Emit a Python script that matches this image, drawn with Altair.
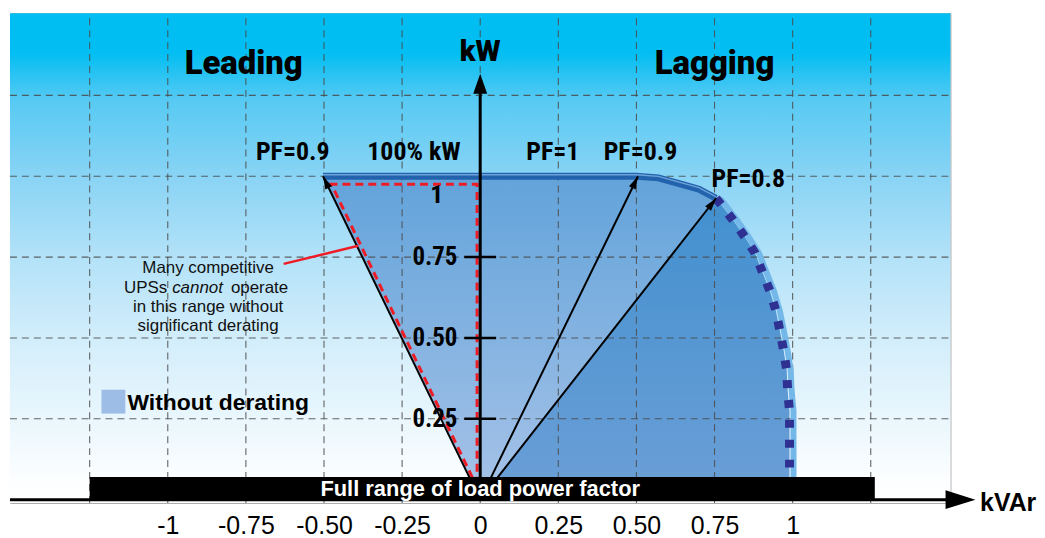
import math
import altair as alt
import pandas as pd

# ---------------- data ----------------
X_DOMAIN = [-1.505, 1.505]
Y_DOMAIN = [-0.01, 1.504]
W, H = 945, 492

tick_values = [-1, -0.75, -0.5, -0.25, 0, 0.25, 0.5, 0.75, 1]
tick_labels = ["-1", "-0.75", "-0.50", "-0.25", "0", "0.25", "0.50", "0.75", "1"]

grid_x = [-1.25, -1, -0.75, -0.5, -0.25, 0, 0.25, 0.5, 0.75, 1, 1.25]
grid_y = [0.25, 0.5, 0.75, 1.0, 1.25]

# outer capability boundary (kVAr, kW)
curve_y = [0.0, 0.086, 0.148, 0.212, 0.274, 0.338, 0.400, 0.462, 0.523, 0.585,
           0.646, 0.702, 0.763, 0.812, 0.865, 0.932, 0.960, 0.978, 0.995, 1.0]
curve_x = [0.990, 0.990, 0.990, 0.990, 0.990, 0.984, 0.981, 0.971, 0.959, 0.946,
           0.927, 0.904, 0.879, 0.847, 0.809, 0.755, 0.700, 0.634, 0.570, 0.500]

lead_pt = (-0.503, 1.0)    # PF=0.9 leading
lag09_pt = (0.505, 1.0)    # PF=0.9 lagging
lag08_pt = (0.755, 0.932)  # PF=0.8 lagging

# light (without derating) region, right part
light_y = [0.0, 0.932, 0.960, 0.978, 0.995, 1.0]
light_x2 = [0.0, 0.755, 0.700, 0.634, 0.570, 0.500]

# red dashed "competitive UPS" region
red_x = [-0.025, -0.476, -0.010, -0.010]
red_y = [0.068, 0.975, 0.975, 0.068]

# annotation leader line
lead_line_x = [-0.629, -0.390]
lead_line_y = [0.729, 0.785]

kw_tick_values = [0.25, 0.5, 0.75]
kw_tick_labels = ["0.25", "0.50", "0.75"]

bar_x, bar_x2, bar_y, bar_y2 = -1.25, 1.263, 0.0, 0.070

big_labels = ["Leading", "Lagging", "kW"]
big_x = [-0.757, 0.750, 0.0]
big_y = [1.347, 1.347, 1.384]

pf_labels = ["PF=0.9", "100% kW", "PF=1", "PF=0.9", "PF=0.8", "1"]
pf_x = [-0.600, -0.212, 0.2325, 0.513, 0.858, -0.139]
pf_y = [1.075, 1.075, 1.075, 1.075, 0.990, 0.941]

note_lines = ["Many competitive", "in this range without", "significant derating"]
note_x = [-0.871, -0.871, -0.871]
note_y = [0.716, 0.596, 0.538]
note2_parts = ["UPSs", "cannot", "operate"]
note2_x = [-1.002, -0.986, -0.798]
note2_y = 0.655

legend_label = "Without derating"
legend_x, legend_y = -1.174, 0.303
legend_text_x, legend_text_y = -1.129, 0.298

# ---------------- helpers ----------------
xs = alt.Scale(domain=X_DOMAIN, nice=False, zero=False)
ys = alt.Scale(domain=Y_DOMAIN, nice=False, zero=False)
label_expr = " : ".join(f"datum.value == {v} ? '{s}'" for v, s in zip(tick_values, tick_labels)) + " : ''"
x_axis = alt.Axis(values=tick_values, labelExpr=label_expr, domain=False, ticks=False, grid=False,
                  labelFont="Liberation Sans", labelFontSize=25, labelColor="black",
                  labelPadding=11, labelOverlap=False, labelFlush=False, title=None)

NARROW = "Roboto Condensed, Liberation Sans Narrow, Roboto"


def X(f):
    return alt.X(f, type="quantitative", scale=xs, axis=x_axis)


def Y(f):
    return alt.Y(f, type="quantitative", scale=ys, axis=None)


def grad(stops):
    return alt.Gradient(gradient="linear", x1=0, x2=0, y1=0, y2=1,
                        stops=[alt.GradientStop(color=c, offset=o) for o, c in stops])


px_x = W / (X_DOMAIN[1] - X_DOMAIN[0])
px_y = H / (Y_DOMAIN[1] - Y_DOMAIN[0])


def head_angle(x0, y0, x1, y1):
    return math.degrees(math.atan2((x1 - x0) * px_x, (y1 - y0) * px_y)) % 360


layers = []

# background gradient
bg = pd.DataFrame({"x": [X_DOMAIN[0]], "x2": [X_DOMAIN[1]], "y": [Y_DOMAIN[0]], "y2": [Y_DOMAIN[1]]})
layers.append(alt.Chart(bg).mark_rect(color=grad([
    (0.0, "#00bdf2"), (0.08, "#02bef2"), (0.18, "#58caf3"), (0.34, "#8bd4f5"),
    (0.5, "#b3e2f8"), (0.67, "#d3eefb"), (0.84, "#ebf7fd"), (0.95, "#fcfeff"), (1.0, "#ffffff")])
).encode(x=X("x"), x2="x2", y=Y("y"), y2="y2"))

# dark region (beyond PF 0.8 line)
dark = pd.DataFrame({"y": curve_y, "x": [0.0] * len(curve_y), "x2": curve_x})
layers.append(alt.Chart(dark).mark_area(orient="horizontal", color=grad([
    (0.0, "#3f8fce"), (1.0, "#6c9fd7")])).encode(y=Y("y"), x=X("x"), x2="x2"))

# light region right of the kW axis
light = pd.DataFrame({"y": light_y, "x": [0.0] * len(light_y), "x2": light_x2})
light_grad = grad([(0.0, "#62a3da"), (1.0, "#a7c3e8")])
layers.append(alt.Chart(light).mark_area(orient="horizontal", color=light_grad)
              .encode(y=Y("y"), x=X("x"), x2="x2"))

# light region left of the kW axis (leading)
tri = pd.DataFrame({"y": [0.0, lead_pt[1]], "x": [0.0, lead_pt[0]], "x2": [0.0, 0.0]})
layers.append(alt.Chart(tri).mark_area(orient="horizontal", color=light_grad)
              .encode(y=Y("y"), x=X("x"), x2="x2"))

# grid
gv = pd.DataFrame({"x": grid_x, "y": [Y_DOMAIN[0]] * len(grid_x), "y2": [Y_DOMAIN[1]] * len(grid_x)})
layers.append(alt.Chart(gv).mark_rule(color="#4a4a4a", strokeWidth=1.1, strokeDash=[7, 5], opacity=0.85)
              .encode(x=X("x"), y=Y("y"), y2="y2"))
gh = pd.DataFrame({"y": grid_y, "x": [X_DOMAIN[0]] * len(grid_y), "x2": [X_DOMAIN[1]] * len(grid_y)})
layers.append(alt.Chart(gh).mark_rule(color="#4a4a4a", strokeWidth=1.1, strokeDash=[7, 5], opacity=0.85)
              .encode(y=Y("y"), x=X("x"), x2="x2"))

# dotted lagging boundary with light edge
dot_idx = [i for i, v in enumerate(curve_y) if v <= 0.932]
dots = pd.DataFrame({"x": [curve_x[i] for i in dot_idx], "y": [curve_y[i] for i in dot_idx],
                     "i": list(range(len(dot_idx)))})
layers.append(alt.Chart(dots).mark_line(color="#74b8ea", strokeWidth=6, xOffset=4)
              .encode(x=X("x"), y=Y("y"), order="i:Q"))
dots_r = dots.iloc[::-1].reset_index(drop=True)
dots_r["i"] = range(len(dots_r))
layers.append(alt.Chart(dots_r).mark_line(color="#2e3192", strokeWidth=9, strokeDash=[8, 12], strokeCap="butt",
                                          opacity=1)
              .encode(x=X("x"), y=Y("y"), order="i:Q"))

# top edge (100% kW)
top_idx = [i for i, v in enumerate(curve_y) if v >= 0.932][::-1]
top = pd.DataFrame({"x": [lead_pt[0]] + [curve_x[i] for i in top_idx],
                    "y": [lead_pt[1]] + [curve_y[i] for i in top_idx]})
top["i"] = range(len(top))
layers.append(alt.Chart(top).mark_line(color="#2363ae", strokeWidth=7, strokeCap="butt")
              .encode(x=X("x"), y=Y("y"), order="i:Q"))
layers.append(alt.Chart(top).mark_line(color="#6da3d8", strokeWidth=1.4, yOffset=-1.5)
              .encode(x=X("x"), y=Y("y"), order="i:Q"))

# red dashed region
red = pd.DataFrame({"x": red_x, "y": red_y, "i": range(len(red_x))})
layers.append(alt.Chart(red).mark_line(color="#ee1c25", strokeWidth=3, strokeDash=[8, 5], strokeCap="butt")
              .encode(x=X("x"), y=Y("y"), order="i:Q"))

# black PF arrows
ends = [lead_pt, lag09_pt, lag08_pt]
arr_lines = pd.DataFrame({"x": [0.0] * 3, "y": [0.0] * 3,
                          "x2": [e[0] for e in ends], "y2": [e[1] for e in ends]})
layers.append(alt.Chart(arr_lines).mark_rule(color="black", strokeWidth=2)
              .encode(x=X("x"), y=Y("y"), x2="x2", y2="y2"))
heads = pd.DataFrame({"x": [e[0] for e in ends], "y": [e[1] for e in ends],
                      "angle": [head_angle(0, 0, e[0], e[1]) for e in ends]})
layers.append(alt.Chart(heads).mark_point(shape="M0,0 L0.75,2.6 L-0.75,2.6 Z", filled=True, size=100,
                                          color="black", opacity=1, strokeWidth=0)
              .encode(x=X("x"), y=Y("y"), angle=alt.Angle("angle", type="quantitative", scale=None)))

# annotation leader
ann = pd.DataFrame({"x": [lead_line_x[0]], "y": [lead_line_y[0]], "x2": [lead_line_x[1]], "y2": [lead_line_y[1]]})
layers.append(alt.Chart(ann).mark_rule(color="#ee1c25", strokeWidth=2.5)
              .encode(x=X("x"), y=Y("y"), x2="x2", y2="y2"))

# axes lines
kw_axis = pd.DataFrame({"x": [0.0], "y": [0.0], "y2": [1.28]})
layers.append(alt.Chart(kw_axis).mark_rule(color="black", strokeWidth=3)
              .encode(x=X("x"), y=Y("y"), y2="y2"))
kvar_axis = pd.DataFrame({"x": [X_DOMAIN[0]], "x2": [1.55], "y": [0.0]})
layers.append(alt.Chart(kvar_axis).mark_rule(color="black", strokeWidth=3)
              .encode(x=X("x"), x2="x2", y=Y("y")))
axis_heads = pd.DataFrame({"x": [0.0, 1.585], "y": [1.317, 0.0], "angle": [0, 90],
                           "shape": ["M0,0 L0.7,2 L-0.7,2 Z", "M0,0 L0.95,3 L-0.95,3 Z"]})
layers.append(alt.Chart(axis_heads).mark_point(filled=True, size=400, color="black", opacity=1, strokeWidth=0)
              .encode(x=X("x"), y=Y("y"), angle=alt.Angle("angle", type="quantitative", scale=None),
                      shape=alt.Shape("shape", type="nominal", scale=None)))

# kW axis ticks & labels
kwt = pd.DataFrame({"x": [0.0] * 3, "y": kw_tick_values, "label": kw_tick_labels})
layers.append(alt.Chart(kwt).mark_tick(orient="horizontal", size=32, thickness=2.5, color="black", opacity=1)
              .encode(x=X("x"), y=Y("y")))
layers.append(alt.Chart(kwt).mark_text(font=NARROW, fontWeight="bold", fontSize=25,
                                       align="right", baseline="middle", dx=-23, color="black")
              .encode(x=X("x"), y=Y("y"), text="label"))

# bottom bar
bar = pd.DataFrame({"x": [bar_x], "x2": [bar_x2], "y": [bar_y], "y2": [bar_y2],
                    "label": ["Full range of load power factor"], "tx": [0.0], "ty": [(bar_y + bar_y2) / 2]})
layers.append(alt.Chart(bar).mark_rect(color="black").encode(x=X("x"), x2="x2", y=Y("y"), y2="y2"))
layers.append(alt.Chart(bar).mark_text(font="Liberation Sans", fontWeight="bold", fontSize=22, color="white",
                                       align="center", baseline="middle", dy=1)
              .encode(x=X("tx"), y=Y("ty"), text="label"))

# big labels
big = pd.DataFrame({"x": big_x, "y": big_y, "label": big_labels})
layers.append(alt.Chart(big[big.label != "kW"]).mark_text(font="Roboto", fontWeight=900, fontSize=33,
                                                          align="center", baseline="middle", color="black")
              .encode(x=X("x"), y=Y("y"), text="label"))
layers.append(alt.Chart(big[big.label == "kW"]).mark_text(font="Roboto", fontWeight=900, fontSize=29,
                                                          align="center", baseline="middle", color="black")
              .encode(x=X("x"), y=Y("y"), text="label"))

# kVAr
kvar = pd.DataFrame({"x": [1.600], "y": [-0.01], "label": ["kVAr"]})
layers.append(alt.Chart(kvar).mark_text(font="Liberation Sans", fontWeight="bold", fontSize=25,
                                        align="left", baseline="middle", color="black")
              .encode(x=X("x"), y=Y("y"), text="label"))

# PF labels
pf = pd.DataFrame({"x": pf_x, "y": pf_y, "label": pf_labels})
layers.append(alt.Chart(pf).mark_text(font=NARROW, fontWeight="bold", fontSize=26,
                                      align="center", baseline="middle", color="black")
              .encode(x=X("x"), y=Y("y"), text="label"))

# note
note = pd.DataFrame({"x": note_x, "y": note_y, "label": note_lines})
layers.append(alt.Chart(note).mark_text(font="Liberation Sans", fontSize=17, align="center",
                                        baseline="middle", color="#111111")
              .encode(x=X("x"), y=Y("y"), text="label"))
n2 = pd.DataFrame({"x": note2_x, "y": [note2_y] * 3, "label": note2_parts})
layers.append(alt.Chart(n2.iloc[[0]]).mark_text(font="Liberation Sans", fontSize=17, align="right",
                                                baseline="middle", color="#111111")
              .encode(x=X("x"), y=Y("y"), text="label"))
layers.append(alt.Chart(n2.iloc[[1]]).mark_text(font="Liberation Sans", fontSize=17, fontStyle="italic",
                                                align="left", baseline="middle", color="#111111")
              .encode(x=X("x"), y=Y("y"), text="label"))
layers.append(alt.Chart(n2.iloc[[2]]).mark_text(font="Liberation Sans", fontSize=17, align="left",
                                                baseline="middle", color="#111111")
              .encode(x=X("x"), y=Y("y"), text="label"))

# legend
leg = pd.DataFrame({"x": [legend_x], "y": [legend_y], "tx": [legend_text_x], "ty": [legend_text_y],
                    "label": [legend_label]})
layers.append(alt.Chart(leg).mark_square(size=576, color="#9dbde6", opacity=1)
              .encode(x=X("x"), y=Y("y")))
layers.append(alt.Chart(leg).mark_text(font="Liberation Sans", fontWeight="bold", fontSize=23,
                                       align="left", baseline="middle", color="black")
              .encode(x=X("tx"), y=Y("ty"), text="label"))

chart = alt.layer(*layers).properties(
    width=W, height=H,
    padding={"left": 0, "top": 3, "right": 0, "bottom": 0},
    background="white",
).configure_view(stroke="#a0a0a0", strokeWidth=1)

chart.save("out.html", embed_options={"renderer": "svg", "actions": False})
